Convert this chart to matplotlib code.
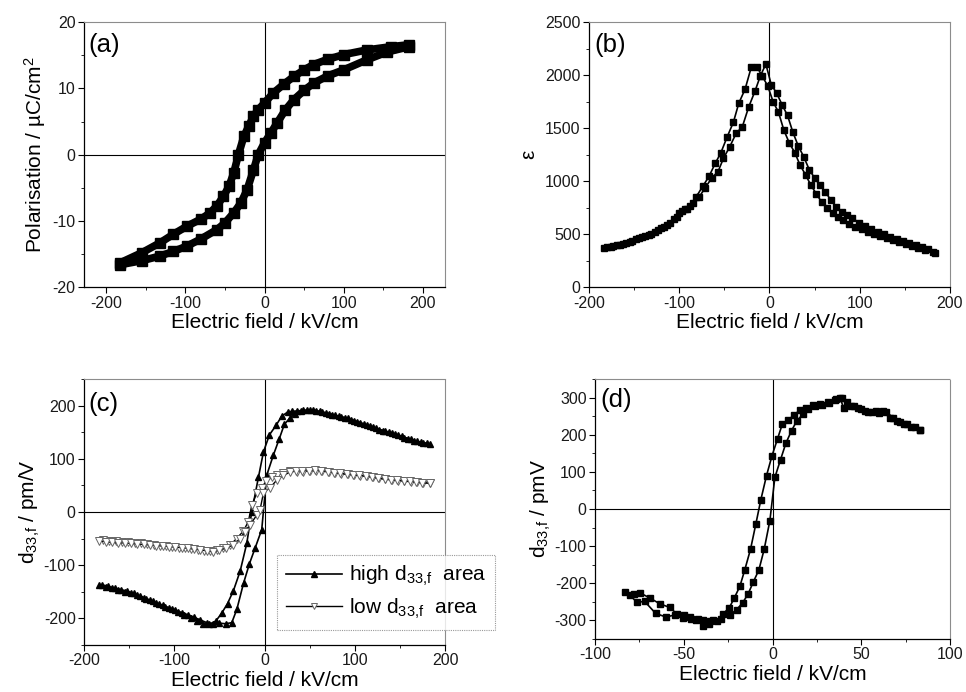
import matplotlib
matplotlib.use("Agg")
import matplotlib.pyplot as plt
from matplotlib.ticker import MultipleLocator

plt.rcParams['font.family'] = ['Liberation Sans', 'DejaVu Sans']
plt.rcParams['mathtext.fontset'] = 'custom'
plt.rcParams['mathtext.rm'] = 'Liberation Sans'
plt.rcParams['mathtext.it'] = 'Liberation Sans:italic'
plt.rcParams['mathtext.default'] = 'regular'
plt.rcParams['axes.unicode_minus'] = False

# ---- (a) polarisation loop ----
Ea_up = [183, 160, 129, 100, 80, 62, 50, 37, 25, 11, 0, -8, -14, -20, -26, -33,
         -39, -45, -52, -60, -69, -80, -98, -115, -132, -155, -182]
Pa_up = [16.6, 16.3, 15.8, 15.1, 14.4, 13.6, 12.8, 11.8, 10.7, 9.3, 7.8, 6.8, 5.8,
         4.3, 2.8, 0, -2.8, -4.8, -6.3, -7.7, -8.8, -9.7, -10.8, -12.0, -13.3, -14.8, -16.3]
Ea_lo = [-182, -155, -132, -115, -98, -80, -60, -50, -39, -30, -22, -14, -8, 0, 8,
         16, 26, 37, 50, 62, 80, 100, 129, 155, 183]
Pa_lo = [-16.6, -16.0, -15.3, -14.6, -13.8, -12.7, -11.3, -10.3, -8.8, -7.3, -5.3,
         -2.3, 0, 1.8, 3.3, 4.8, 6.7, 8.3, 9.7, 10.8, 11.9, 12.8, 14.3, 15.5, 16.3]

# ---- (b) permittivity butterfly ----
Eb_1 = [-183, -176, -169, -162, -155, -148, -141, -134, -127, -120, -113, -106, -100,
        -94, -88, -81, -74, -67, -60, -54, -47, -40, -34, -27, -20, -14, -8, -2,
        4, 10, 16, 22, 28, 34, 40, 46, 52, 58, 64, 70, 76, 82, 88,
        95, 102, 109, 116, 123, 130, 137, 144, 151, 158, 165, 172, 183]
eps_1 = [370, 380, 395, 410, 425, 450, 470, 490, 520, 555, 590, 640, 700,
         740, 770, 855, 950, 1045, 1170, 1265, 1415, 1555, 1735, 1868, 2080, 2080, 1990, 1900,
         1750, 1650, 1480, 1360, 1270, 1150, 1060, 960, 880, 800, 750, 700, 665, 630, 600,
         570, 550, 525, 500, 480, 460, 445, 425, 410, 390, 370, 355, 320]
Eb_2 = [-180, -173, -166, -159, -152, -145, -138, -131, -124, -117, -110, -103, -97,
        -91, -85, -78, -71, -64, -57, -51, -44, -37, -30, -23, -16, -10, -4,
        2, 8, 14, 20, 26, 32, 38, 44, 50, 56, 62, 68, 74, 80, 86, 92,
        99, 106, 113, 120, 127, 134, 141, 148, 155, 162, 169, 176, 181]
eps_2 = [375, 385, 400, 415, 435, 460, 480, 505, 535, 570, 610, 660, 720,
         735, 790, 850, 940, 1030, 1090, 1215, 1325, 1450, 1515, 1700, 1850, 1995, 2104,
         1910, 1830, 1720, 1620, 1460, 1330, 1230, 1110, 1030, 960, 900, 820, 760, 710, 680, 650,
         610, 580, 550, 520, 500, 475, 455, 435, 415, 395, 375, 360, 330]

# ---- (c) d33,f loops, high and low area ----
Ec_hi_dn = [183, 176, 169, 162, 155, 148, 141, 134, 127, 120, 113, 106, 99,
            92, 85, 78, 71, 64, 57, 50, 43, 36, 30,
            25.7, 19, 12.8, 5.4, -1.2, -6.8, -14.2, -19.7, -27, -34.5, -41, -47.4,
            -54, -61, -68, -75, -82, -89, -96, -103, -110, -117, -124, -131, -138,
            -145, -152, -159, -166, -173, -180]
d_hi_dn = [128, 130, 133, 137, 140, 145, 148, 152, 155, 160, 164, 168, 172,
           176, 179, 182, 185, 188, 190, 192, 191, 190, 189,
           188, 180, 163, 145, 113, 65, 0, -59, -111, -148, -172, -190,
           -205, -211, -210, -205, -199, -194, -188, -183, -178, -173, -168, -163, -158,
           -153, -149, -146, -143, -140, -137]
Ec_hi_up = [-183, -176, -169, -162, -155, -148, -141, -134, -127, -120, -113, -106, -99,
            -92, -85, -78, -71, -64, -57, -50, -43, -36.3, -30.7, -23.3, -16.7, -10.5, -3.1,
            2.4, 9.8, 16.4, 22, 28.3, 34, 40, 47, 54, 61, 68, 75, 82, 89, 96,
            103, 110, 117, 124, 131, 138, 145, 152, 159, 166, 173, 180]
d_hi_up = [-138, -141, -143, -147, -150, -152, -156, -161, -166, -171, -175, -180, -184,
           -189, -193, -198, -203, -208, -210, -209, -210, -208, -183, -134, -97, -68, -33,
           69, 107, 138, 165, 177, 185, 189, 191, 192, 189, 186, 183, 180, 177, 173,
           169, 165, 161, 157, 153, 150, 146, 142, 138, 134, 131, 129]
Ec_lo_dn = [183, 176, 169, 162, 155, 148, 141, 134, 127, 120, 113, 106, 99,
            92, 85, 78, 71, 64, 57, 50, 43, 36, 28,
            21, 14, 8, 2, -3, -8.7, -14, -18, -23.5, -31, -38, -46,
            -53, -60, -67, -74, -81, -88, -95, -102, -109, -116, -123, -130, -137,
            -144, -151, -158, -165, -172, -179]
d_lo_dn = [55, 55, 56, 57, 58, 59, 60, 62, 63, 65, 67, 68, 70,
           71, 72, 74, 75, 77, 77, 77, 76, 76, 78,
           73, 69, 65, 59, 46, 35, 14, -18, -36, -50, -62, -68,
           -72, -74, -73, -71, -70, -68, -67, -65, -64, -63, -62, -61, -59,
           -58, -57, -56, -55, -54, -53]
Ec_lo_up = [-183, -176, -169, -162, -155, -148, -141, -134, -127, -120, -113, -106, -99,
            -92, -85, -78, -71, -64, -57, -50, -43, -34.6, -27.2, -21.6, -16, -8.7, -5, -1.2,
            6.2, 13.6, 21, 28.3, 35, 42, 49, 56, 63, 70, 77, 84, 91, 98,
            105, 112, 119, 126, 133, 140, 147, 154, 161, 168, 175, 183]
d_lo_up = [-54, -56, -57, -58, -58, -59, -60, -61, -62, -63, -64, -65, -66,
           -67, -68, -70, -71, -73, -75, -72, -68, -62, -50, -37, -24, -6, 4, 36,
           46, 60, 69, 75, 77, 78, 78, 79, 78, 76, 74, 73, 71, 70,
           69, 68, 66, 64, 62, 61, 60, 59, 58, 56, 55, 54]

# ---- (d) d33,f loop ----
Ed_dn = [-83.3, -78, -74.6, -69, -63.6, -58, -54, -50, -46.5, -42, -39, -35, -31.5,
         -27.8, -24.4, -21.6, -18.4, -15.6, -12.4, -9.4, -6.6, -3.4, -0.4, 2.8, 5.6,
         8.8, 12, 15.4, 19, 23, 27, 31, 35, 38, 40, 44, 48, 52, 56, 60, 64, 68, 72,
         76, 80, 83]
dd_dn = [-224, -228, -226, -240, -255, -265, -282, -285, -291, -295, -300, -302, -301,
         -282, -266, -240, -208, -163, -108, -40, 25, 90, 142, 189, 230,
         239, 253, 266, 272, 280, 283, 288, 293, 300, 272, 276, 272, 265, 262, 258, 262, 245, 235,
         228, 222, 214]
Ed_up = [-80.5, -76.5, -72, -65.9, -60, -55, -50.4, -46, -42.9, -39, -36, -33.3, -29,
         -24, -20.3, -16.9, -13.7, -10.9, -7.7, -4.7, -1.5, 1.3, 4.5, 7.5, 10.7, 13.5,
         17, 20, 24, 28, 32, 36, 39, 42, 46, 50, 54, 58, 62, 66, 70, 74, 78, 83]
dd_up = [-231, -251, -249, -281, -291, -285, -294, -297, -299, -314, -309, -300, -295,
         -285, -271, -253, -228, -197, -164, -108, -31, 85, 133, 177, 211, 236,
         255, 268, 278, 280, 286, 295, 300, 288, 276, 270, 262, 265, 265, 245, 236, 228, 222, 213]

xlabel = "Electric field / kV/cm"
d33 = "d$_{33{,}f}$"

fig = plt.figure(figsize=(9.66, 6.92), dpi=100)
ax_a = fig.add_axes([0.087, 0.585, 0.3737, 0.383])
ax_b = fig.add_axes([0.6097, 0.585, 0.3737, 0.383])
ax_c = fig.add_axes([0.087, 0.0679, 0.3737, 0.3844])
ax_d = fig.add_axes([0.616, 0.0766, 0.3675, 0.3757])


def style(ax, xmaj, xmin, ymaj, ymin):
    for s in ['top', 'right']:
        ax.spines[s].set_linestyle((0, (1, 1)))
        ax.spines[s].set_color('0.55')
        ax.spines[s].set_linewidth(0.8)
    for s in ['left', 'bottom']:
        ax.spines[s].set_linewidth(0.9)
    ax.xaxis.set_major_locator(MultipleLocator(xmaj))
    ax.xaxis.set_minor_locator(MultipleLocator(xmin))
    ax.yaxis.set_major_locator(MultipleLocator(ymaj))
    ax.yaxis.set_minor_locator(MultipleLocator(ymin))
    ax.tick_params(which='major', direction='out', length=4, width=0.8,
                   labelsize=11.5, top=False, right=False, pad=2, labelcolor='0.1')
    ax.tick_params(which='minor', direction='out', length=2, width=0.6,
                   top=False, right=False)
    ax.set_xlabel(xlabel, fontsize=15, labelpad=2)


# (a)
ax_a.axhline(0, color='k', lw=0.8, zorder=1)
ax_a.axvline(0, color='k', lw=0.8, zorder=1)
for E, P in [(Ea_up, Pa_up), (Ea_lo, Pa_lo)]:
    ax_a.plot(E, P, color='k', lw=5.5, marker='s', ms=6.5, solid_capstyle='butt',
              solid_joinstyle='round', zorder=3)
ax_a.set_xlim(-228, 228)
ax_a.set_ylim(-20, 20)
style(ax_a, 100, 50, 10, 5)
ax_a.set_ylabel("Polarisation / µC/cm$^2$", fontsize=15, labelpad=3)
ax_a.text(0.012, 0.96, "(a)", transform=ax_a.transAxes, fontsize=18.5, va='top', ha='left')

# (b)
ax_b.axvline(0, color='k', lw=0.8, zorder=1)
for E, e in [(Eb_1, eps_1), (Eb_2, eps_2)]:
    ax_b.plot(E, e, color='k', lw=1.2, marker='s', ms=4.2, zorder=3)
ax_b.set_xlim(-200, 200)
ax_b.set_ylim(0, 2500)
style(ax_b, 100, 50, 500, 250)
ax_b.set_ylabel("ε", fontsize=15, labelpad=5)
ax_b.text(0.014, 0.96, "(b)", transform=ax_b.transAxes, fontsize=18.5, va='top', ha='left')

# (c)
ax_c.axhline(0, color='k', lw=0.8, zorder=1)
ax_c.axvline(0, color='k', lw=0.8, zorder=1)
ax_c.plot(Ec_hi_dn, d_hi_dn, color='k', lw=1.2, marker='^', ms=5, zorder=3,
          label="high " + d33 + "  area")
ax_c.plot(Ec_hi_up, d_hi_up, color='k', lw=1.2, marker='^', ms=5, zorder=3)
ax_c.plot(Ec_lo_dn, d_lo_dn, color='k', lw=1.0, marker='v', ms=5.5, mfc='white',
          mec='0.4', mew=0.7, zorder=3, label="low " + d33 + "  area")
ax_c.plot(Ec_lo_up, d_lo_up, color='k', lw=1.0, marker='v', ms=5.5, mfc='white',
          mec='0.4', mew=0.7, zorder=3)
ax_c.set_xlim(-200, 200)
ax_c.set_ylim(-250, 250)
style(ax_c, 100, 50, 100, 50)
ax_c.set_ylabel(d33 + " / pm/V", fontsize=15, labelpad=1)
ax_c.text(0.012, 0.95, "(c)", transform=ax_c.transAxes, fontsize=18.5, va='top', ha='left')
leg = ax_c.legend(loc='center', bbox_to_anchor=(386 / 966, 1 - 592.5 / 692),
                  bbox_transform=fig.transFigure, fontsize=15, frameon=True,
                  fancybox=False, handlelength=2.7, numpoints=1, markerscale=0.9,
                  borderpad=0.45, labelspacing=0.4, handletextpad=0.3, borderaxespad=0)
leg.get_frame().set_edgecolor('0.5')
leg.get_frame().set_linestyle((0, (1, 1)))
leg.get_frame().set_linewidth(0.8)

# (d)
ax_d.axhline(0, color='k', lw=0.8, zorder=1)
ax_d.axvline(0, color='k', lw=0.8, zorder=1)
for E, d in [(Ed_dn, dd_dn), (Ed_up, dd_up)]:
    ax_d.plot(E, d, color='k', lw=1.2, marker='s', ms=4.4, zorder=3)
ax_d.set_xlim(-100, 100)
ax_d.set_ylim(-350, 350)
style(ax_d, 50, 25, 100, 50)
ax_d.set_ylabel(d33 + " / pmV", fontsize=15, labelpad=1)
ax_d.text(0.014, 0.965, "(d)", transform=ax_d.transAxes, fontsize=18.5, va='top', ha='left')

fig.savefig("out.png", dpi=100)
